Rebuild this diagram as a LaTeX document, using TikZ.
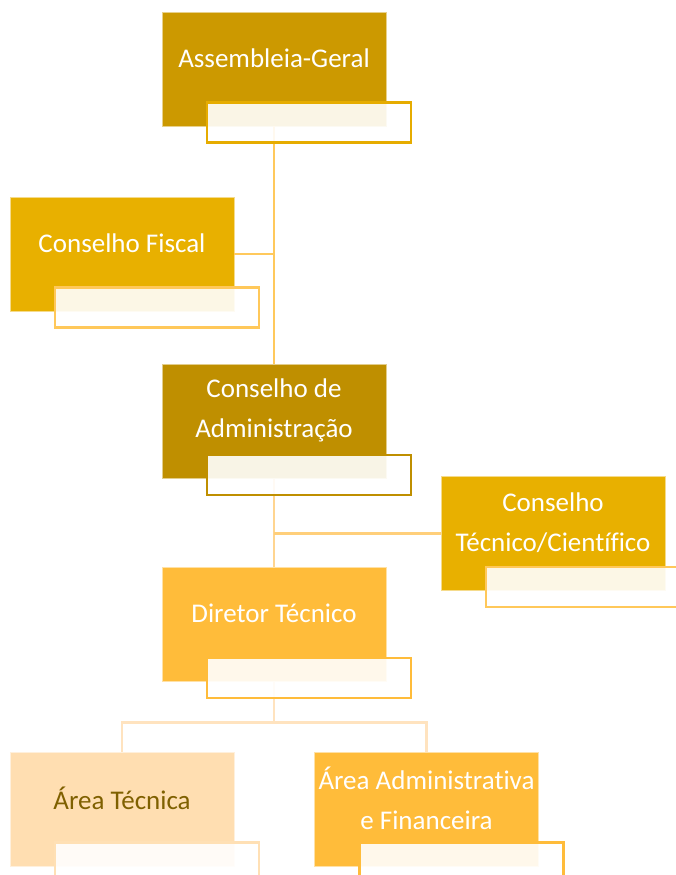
\documentclass[tikz,border=0pt]{standalone}
\usepackage{fontspec}
\setmainfont{Carlito}[Ligatures=CommonOff]
\usetikzlibrary{positioning, calc}
\definecolor{assembleia}{HTML}{CC9900}
\definecolor{fiscal}{HTML}{E8B000}
\definecolor{admin}{HTML}{BF8F00}
\definecolor{diretor}{HTML}{FFBC3A}
\definecolor{tecnica}{HTML}{FFDEB1}
\definecolor{tagline}{HTML}{E6AC00}
\definecolor{taglight}{HTML}{FFC85A}
\definecolor{tagpale}{HTML}{FFE0B5}
\definecolor{linktop}{HTML}{FFC95C}
\definecolor{linkmid}{HTML}{FFD590}
\definecolor{linkside}{HTML}{FFCF7A}
\definecolor{linklow}{HTML}{FFE3BF}
\definecolor{darktext}{HTML}{7F6000}
\newcommand{\unitfont}{\fontsize{27}{40}\selectfont}

\begin{document}
\begin{tikzpicture}[
    unit/.style={fill=#1, draw=white!55!#1, line width=0.6pt, minimum width=224pt, minimum height=114pt, inner sep=0pt},
    tagbox/.style={fill=white, fill opacity=0.9, draw=#1, draw opacity=1, line width=2.4pt, minimum width=204pt, minimum height=40pt, inner sep=0pt, anchor=north west},
    unittext/.style={text=white, font=\unitfont, align=center, inner sep=0pt},
    link/.style={draw=#1, line width=2.4pt}
]
\useasboundingbox (0,0) rectangle (676pt,-875pt);

% Main boxes
\node[unit=assembleia] (ag) at (274pt,-69pt) {};
\node[unit=fiscal] (cf) at (122pt,-254pt) {};
\node[unit=admin, below=238pt of ag] (ca) {};
\node[unit=fiscal] (ct) at (553pt,-533.5pt) {};
\node[unit=diretor, below=88pt of ca] (dt) {};
\node[unit=tecnica] (at) at (122pt,-809pt) {};
\node[unit=diretor] (aa) at (426.5pt,-809pt) {};

% Connectors
\coordinate (bus) at ([yshift=-41pt]dt.south);
\draw[link=linktop] (ag.south) -- (ca.north);
\draw[link=linktop] (cf.east) -- (cf.east -| ag.south);
\draw[link=linkmid] (ca.south) -- (dt.north);
\draw[link=linkside] (ct.west) -- (ct.west -| ca.south);
\draw[link=linklow] (dt.south) -- (bus) -| (at.north);
\draw[link=linklow] (bus) -| (aa.north);

% Tag boxes
\node[tagbox=tagline] (agtag) at ([shift={(44pt,25pt)}]ag.south west) {};
\node[tagbox=taglight] (cftag) at ([shift={(44pt,25pt)}]cf.south west) {};
\node[tagbox=admin] (catag) at ([shift={(44pt,25pt)}]ca.south west) {};
\node[tagbox=taglight] (cttag) at ([shift={(44pt,25pt)}]ct.south west) {};
\node[tagbox=diretor] (dttag) at ([shift={(44pt,25pt)}]dt.south west) {};
\node[tagbox=tagpale] (attag) at ([shift={(44pt,25pt)}]at.south west) {};
\node[tagbox=diretor] (aatag) at ([shift={(44pt,25pt)}]aa.south west) {};

% Texts
\node[unittext] (agtext) at ([yshift=11pt]ag.center) {Assembleia-Geral};
\node[unittext] (cftext) at ([yshift=11pt]cf.center) {Conselho Fiscal};
\node[unittext] (catext) at ([yshift=11pt]ca.center) {Conselho de\\Administração};
\node[unittext] (cttext) at ([yshift=11pt]ct.center) {Conselho\\Técnico/Científico};
\node[unittext] (dttext) at ([yshift=11pt]dt.center) {Diretor Técnico};
\node[unittext, text=darktext] (attext) at ([yshift=11pt]at.center) {Área Técnica};
\node[unittext] (aatext) at ([yshift=11pt]aa.center) {Área Administrativa\\e Financeira};

\end{tikzpicture}
\end{document}
